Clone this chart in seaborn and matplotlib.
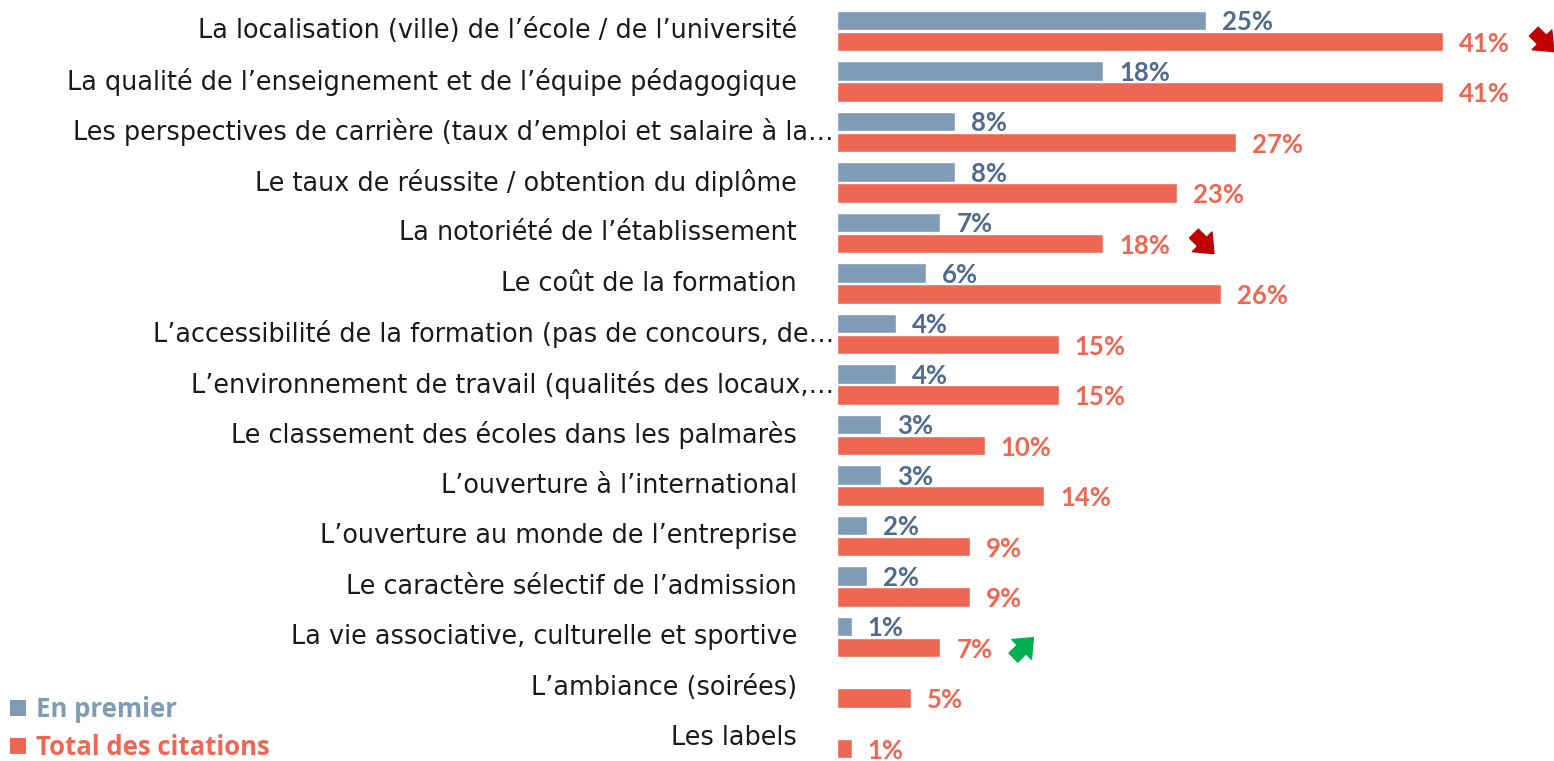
import numpy as np
import pandas as pd
import matplotlib
matplotlib.use("Agg")
import matplotlib.pyplot as plt
from matplotlib.patches import Patch
from matplotlib.transforms import offset_copy
import seaborn as sns

# data
categories = [
    "La localisation (ville) de l’école / de l’université",
    "La qualité de l’enseignement et de l’équipe pédagogique",
    "Les perspectives de carrière (taux d’emploi et salaire à la…",
    "Le taux de réussite / obtention du diplôme",
    "La notoriété de l’établissement",
    "Le coût de la formation",
    "L’accessibilité de la formation (pas de concours, de…",
    "L’environnement de travail (qualités des locaux,…",
    "Le classement des écoles dans les palmarès",
    "L’ouverture à l’international",
    "L’ouverture au monde de l’entreprise",
    "Le caractère sélectif de l’admission",
    "La vie associative, culturelle et sportive",
    "L’ambiance (soirées)",
    "Les labels",
]
en_premier = [25, 18, 8, 8, 7, 6, 4, 4, 3, 3, 2, 2, 1, np.nan, np.nan]
total_citations = [41, 41, 27, 23, 18, 26, 15, 15, 10, 14, 9, 9, 7, 5, 1]
evolution = ["down", None, None, None, "down", None, None, None, None, None, None, None, "up", None, None]

series = ["En premier", "Total des citations"]
bar_colors = ["#7F9BB6", "#EE6753"]
text_colors = ["#4F6B8F", "#EE6753"]
arrow_color = {"down": "#C00000", "up": "#00B050"}

df = pd.DataFrame({
    "critere": categories * 2,
    "serie": [series[0]] * len(categories) + [series[1]] * len(categories),
    "valeur": en_premier + total_citations,
})

sns.set_style("white")
plt.rcParams["font.family"] = ["Lato", "DejaVu Sans"]

fig = plt.figure(figsize=(15.54, 7.61), dpi=100)
ax = fig.add_axes([0.5386, 0.0, 0.4564, 1.0])

sns.barplot(data=df, x="valeur", y="critere", hue="serie", hue_order=series,
            order=categories, palette=bar_colors, orient="h", width=0.84, gap=0.08,
            saturation=1, legend=False, ax=ax)

ax.set_xlim(0, 48.0)
ax.set_ylim(14.455, -0.614)
ax.set_xlabel("")
ax.set_ylabel("")
ax.set_xticks([])
ax.set_yticks([])
sns.despine(ax=ax, left=True, bottom=True)

# category labels, right aligned left of the bars
for i, cat in enumerate(categories):
    dx = -3 if cat.endswith("…") else -40
    ax.annotate(cat, xy=(0, i), xycoords="data", xytext=(dx, 0),
                textcoords="offset pixels", ha="right", va="center",
                fontsize=18.4, family="DejaVu Sans", color="#1a1a1a",
                annotation_clip=False)

# value labels and evolution arrows
for k, cont in enumerate(ax.containers):
    for p in cont.patches:
        w = p.get_width()
        if np.isnan(w):
            continue
        yc = p.get_y() + p.get_height() / 2
        lab = f"{w:g}%"
        ax.annotate(lab, xy=(w, yc), xytext=(16, -2), textcoords="offset pixels",
                    ha="left", va="center", fontsize=18.5, fontweight="bold",
                    color=text_colors[k], annotation_clip=False)
        if k == 1:
            trend = evolution[int(round(yc))]
            if trend:
                dx = 47 + 18 * len(lab)
                sy = -1 if trend == "down" else 1
                head = offset_copy(ax.transData, fig=fig, x=dx + 10, y=10 * sy, units="dots")
                ax.annotate("", xy=(w, yc), xycoords=head, xytext=(-20, -20 * sy),
                            textcoords="offset pixels",
                            arrowprops=dict(arrowstyle="simple,head_length=0.6,head_width=1.0,tail_width=0.45",
                                            mutation_scale=20, color=arrow_color[trend],
                                            shrinkA=0, shrinkB=0),
                            annotation_clip=False)

# legend bottom left
handles = [Patch(facecolor=c, edgecolor="none") for c in bar_colors]
fig.legend(handles, series, loc="lower left", bbox_to_anchor=(10 / 1554, 0.0),
           frameon=False, borderpad=0, borderaxespad=0,
           handlelength=0.62, handleheight=0.62, handletextpad=0.4,
           labelspacing=0.42, labelcolor=bar_colors,
           prop={"family": "Open Sans", "weight": "bold", "size": 18.5})

fig.savefig("out.png", dpi=100)
